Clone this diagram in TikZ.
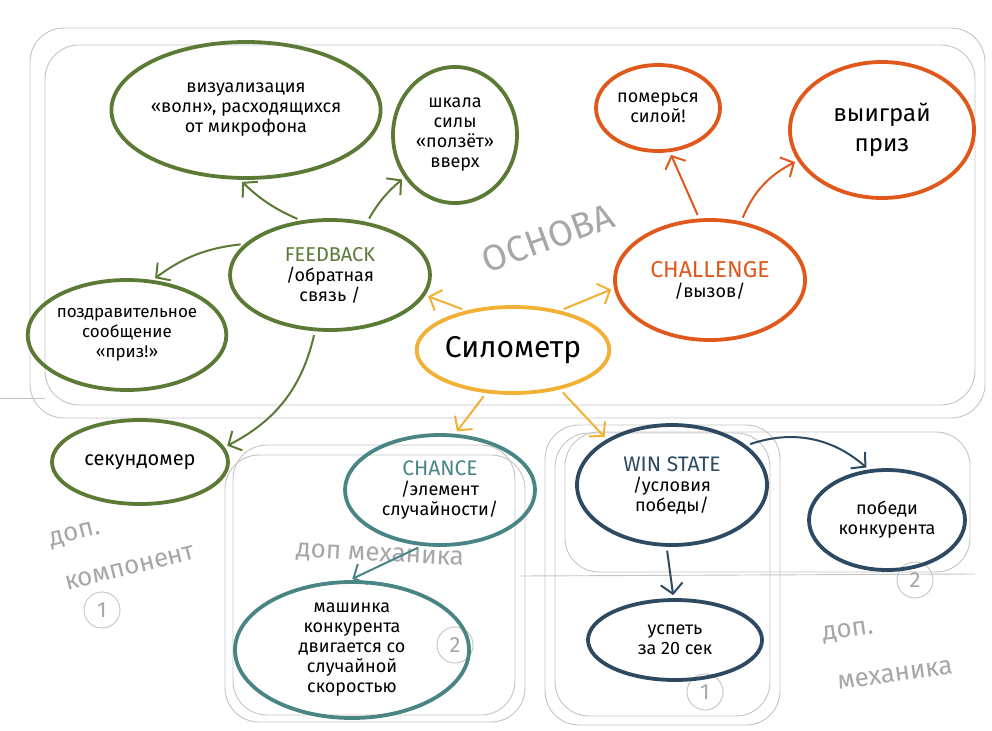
\documentclass[tikz,border=0pt]{standalone}
\usepackage{fontspec}
\setmainfont{Fira Sans}
\usetikzlibrary{shapes.geometric,arrows.meta}
\definecolor{grn}{HTML}{5B7A35}
\definecolor{org}{HTML}{E0581C}
\definecolor{yel}{HTML}{F2B134}
\definecolor{tea}{HTML}{4A8585}
\definecolor{dbl}{HTML}{2E4A62}
\definecolor{sk}{HTML}{C4C4C4}
\begin{document}
\begin{tikzpicture}[x=1pt,y=-1pt,
  bub/.style={ellipse, draw, line width=3.8pt, inner sep=0pt, align=center,
    font=\fontsize{18}{20}\selectfont, text=black},
  arr/.style={line width=2pt, -{Straight Barb[length=10pt,width=22pt]},
    shorten >=3pt, shorten <=4pt},
  sketch/.style={draw=sk, line width=0.9pt, rounded corners=34pt},
  skt/.style={text=sk!85!black, font=\fontsize{26}{28}\selectfont},
  circnum/.style={circle, draw=sk, line width=0.9pt, minimum size=36pt,
    text=sk!85!black, font=\fontsize{22}{22}\selectfont}]
\useasboundingbox[fill=white] (0,0) rectangle (992,730);

% gray sketch frames
\draw[sketch] (30,28) rectangle (985,418);
\draw[sketch] (45,45) rectangle (975,405);
\draw[sketch,rounded corners=0pt] (0,398) -- (45,398);
\draw[sketch] (225,455) rectangle (525,722);
\draw[sketch] (233,445) rectangle (515,715);
\draw[sketch] (545,425) rectangle (780,725);
\draw[sketch] (555,433) rectangle (770,716);
\draw[sketch] (565,432) rectangle (970,572);
\draw[sketch,rounded corners=0pt] (520,576) -- (975,574);

% gray labels
\node[skt, rotate=20, font=\fontsize{36}{36}\selectfont] (osn) at (548,238) {ОСНОВА};
\node[skt, rotate=14] (dopk1) at (75,535) {доп.};
\node[skt, rotate=14] (dopk2) at (130,568) {компонент};
\node[skt, rotate=-3] (dopm) at (380,556) {доп механика};
\node[skt, rotate=8] (dopm2a) at (848,632) {доп.};
\node[skt, rotate=8] (dopm2b) at (895,675) {механика};
\node[circnum] (c1) at (102,610) {1};
\node[circnum] (c2) at (455,645) {2};
\node[circnum] (c3) at (705,692) {1};
\node[circnum] (c4) at (915,580) {2};

% nodes
\node[bub, draw=grn, minimum width=264pt, minimum height=136pt] (viz) at (246,110)
  {визуализация\\«волн», расходящихся\\от микрофона};
\node[bub, draw=grn, minimum width=124pt, minimum height=136pt] (shk) at (455,135)
  {шкала\\силы\\«ползёт»\\вверх};
\node[bub, draw=org, minimum width=124pt, minimum height=86pt] (pom) at (658,108)
  {померься\\силой!};
\node[bub, draw=org, minimum width=184pt, minimum height=136pt,
  font=\fontsize{24}{30}\selectfont] (vyi) at (882,130)
  {выиграй\\приз};
\node[bub, draw=grn, minimum width=200pt, minimum height=110pt] (fb) at (330,275)
  {\textcolor{grn}{\fontsize{20}{22}\selectfont FEEDBACK}\\/обратная\\связь /};
\node[bub, draw=grn, minimum width=184pt, minimum height=110pt,
  font=\fontsize{17}{20}\selectfont] (poz) at (127,335)
  {поздравительное\\сообщение\\«приз!»};
\node[bub, draw=yel, minimum width=146pt, minimum height=86pt,
  font=\fontsize{30}{32}\selectfont] (sil) at (513,350)
  {Силометр};
\node[bub, draw=org, minimum width=190pt, minimum height=120pt] (ch) at (710,280)
  {\textcolor{org}{\fontsize{23}{26}\selectfont CHALLENGE}\\/вызов/};
\node[bub, draw=grn, minimum width=176pt, minimum height=84pt,
  font=\fontsize{20}{22}\selectfont] (sek) at (140,462)
  {секундомер};
\node[bub, draw=tea, minimum width=190pt, minimum height=110pt] (chn) at (440,490)
  {\textcolor{tea}{\fontsize{21}{24}\selectfont CHANCE}\\/элемент\\случайности/};
\node[bub, draw=dbl, minimum width=190pt, minimum height=120pt] (win) at (672,485)
  {\textcolor{dbl}{\fontsize{21}{24}\selectfont WIN STATE}\\/условия\\победы/};
\node[bub, draw=dbl, minimum width=156pt, minimum height=100pt] (pob) at (887,520)
  {победи\\конкурента};
\node[bub, draw=tea, minimum width=234pt, minimum height=136pt] (mash) at (352,650)
  {машинка\\конкурента\\двигается со\\случайной\\скоростью};
\node[bub, draw=dbl, minimum width=174pt, minimum height=80pt] (usp) at (675,640)
  {успеть\\за 20 сек};

% connectors
\draw[arr, yel] (sil.140) -- (fb.-12);
\draw[arr, yel] (sil.40) -- (ch.185);
\draw[arr, yel] (sil.238) -- (chn.75);
\draw[arr, yel] (sil.-40) -- (win.145);
\draw[arr, grn] (fb.118) to[bend left=10] (viz.-95);
\draw[arr, grn] (fb.55) to[bend left=10] (shk.220);
\draw[arr, grn] (fb.160) to[bend right=15] (poz.65);
\draw[arr, grn] (fb.-105) to[bend left=25] (sek.10);
\draw[arr, org] (ch.100) -- (pom.-75);
\draw[arr, org] (ch.62) to[bend left=20] (vyi.200);
\draw[arr, tea] (chn.-108) -- (mash.92);
\draw[arr, dbl] (win.28) to[bend left=30] (pob.110);
\draw[arr, dbl] (win.-95) -- (usp.92);
\end{tikzpicture}
\end{document}
